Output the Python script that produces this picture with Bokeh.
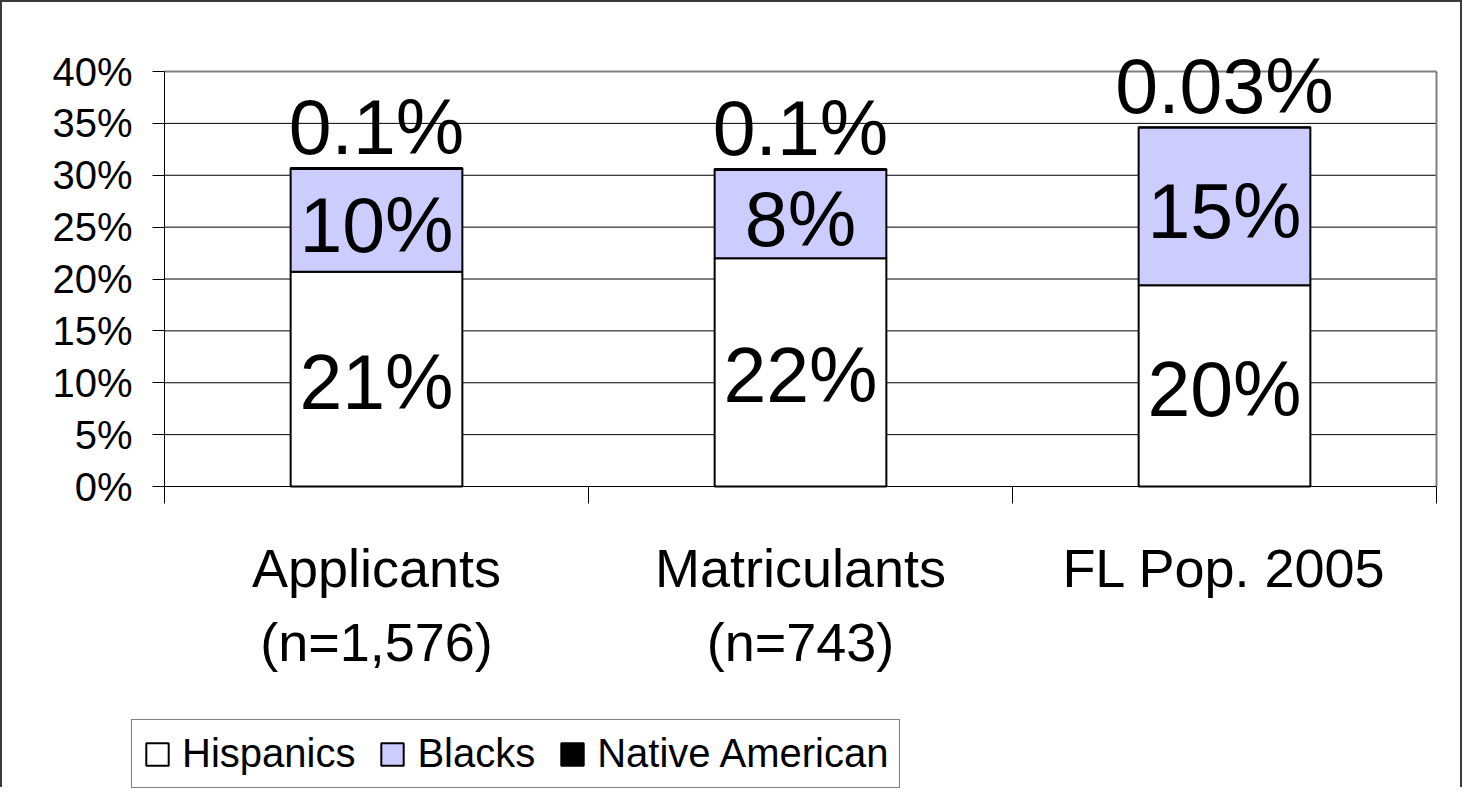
import numpy as np
from bokeh.plotting import figure
from bokeh.models import FixedTicker, PrintfTickFormatter, Legend, LegendItem, ColumnDataSource
from bokeh.core.properties import value
from bokeh.embed import file_html
from bokeh.resources import INLINE

# ---- data ----
categories = ["Applicants\n(n=1,576)", "Matriculants\n(n=743)", "FL Pop. 2005"]
hispanics = [20.7, 22.0, 19.4]
blacks = [9.9, 8.5, 15.2]
native = [0.1, 0.1, 0.03]
hisp_labels = ["21%", "22%", "20%"]
black_labels = ["10%", "8%", "15%"]
native_labels = ["0.1%", "0.1%", "0.03%"]
series_names = ["Hispanics", "Blacks", "Native American"]
series_colors = ["#FFFFFF", "#CCCCFF", "#000000"]
y_ticks = [0, 5, 10, 15, 20, 25, 30, 35, 40]

FONT = "Liberation Sans"

# ---- layout (pixels, canvas coordinates) ----
W, H = 1462, 787
plot_left, plot_top, plot_w, plot_h = 162, 69, 1272, 415
legend_left, legend_bottom_gap = 129, 1

ncat = len(categories)
x = np.arange(ncat) + 0.5
h = np.array(hispanics)
b = np.array(blacks)
n = np.array(native)
y_max = y_ticks[-1]
px_x = plot_w / ncat
px_y = plot_h / y_max
x_start = -plot_left / px_x
x_end = (W - plot_left) / px_x
y_end = y_max + plot_top / px_y
y_start = -(H - plot_top - plot_h) / px_y

src = ColumnDataSource(dict(
    x=x,
    h_top=h, b_top=h + b, n_top=h + b + n,
    h_mid=h / 2, b_mid=h + b / 2,
    hl=hisp_labels, bl=black_labels, nl=native_labels,
))

p = figure(width=W, height=H, x_range=(x_start, x_end), y_range=(y_start, y_end),
           output_backend="svg", toolbar_location=None,
           min_border_left=0, min_border_top=0, min_border_right=0, min_border_bottom=0)
p.styles = {"border-top": "2px solid #3a3a3a", "border-left": "2px solid #3a3a3a",
            "border-right": "2px solid #3a3a3a"}

p.outline_line_color = None
p.background_fill_color = "white"
p.border_fill_color = "white"
p.xgrid.visible = False
p.ygrid.visible = False

# horizontal gridlines (black) and plot-area border (top & right, gray)
inner = y_ticks[1:-1]
p.segment(x0=[0] * len(inner), y0=inner, x1=[ncat] * len(inner), y1=inner,
          line_color="black", line_width=1)
p.segment(x0=[0, ncat], y0=[y_max, 0], x1=[ncat, ncat], y1=[y_max, y_max],
          line_color="#808080", line_width=2)

bw = 0.405
r_h = p.vbar(x="x", width=bw, bottom=0, top="h_top", source=src,
             fill_color=series_colors[0], line_color="black", line_width=2)
r_b = p.vbar(x="x", width=bw, bottom="h_top", top="b_top", source=src,
             fill_color=series_colors[1], line_color="black", line_width=2)
r_n = p.vbar(x="x", width=bw, bottom="b_top", top="n_top", source=src,
             fill_color=series_colors[2], line_color="black", line_width=2)

lbl = dict(source=src, text_align="center", text_font=value(FONT),
           text_font_size=value("77px"), text_color="black")
p.text(x="x", y="h_mid", text="hl", text_baseline="middle", y_offset=3, **lbl)
p.text(x="x", y="b_mid", text="bl", text_baseline="middle", y_offset=5, **lbl)
p.text(x="x", y="n_top", text="nl", text_baseline="bottom", y_offset=2, **lbl)

# y axis
p.yaxis.fixed_location = 0
p.yaxis.bounds = (0, y_max)
p.yaxis.ticker = FixedTicker(ticks=y_ticks)
p.yaxis.formatter = PrintfTickFormatter(format="%d%%")
p.yaxis.major_tick_out = 12
p.yaxis.major_tick_in = 0
p.yaxis.minor_tick_line_color = None
p.yaxis.major_label_standoff = 20
p.yaxis.major_label_text_font = FONT
p.yaxis.major_label_text_font_size = "40px"
p.yaxis.major_label_text_color = "black"
p.yaxis.axis_line_color = "black"
p.yaxis.major_tick_line_color = "black"

# x axis
p.xaxis.fixed_location = 0
p.xaxis.bounds = (0, ncat)
p.xaxis.ticker = FixedTicker(ticks=list(x), minor_ticks=list(np.arange(ncat + 1)))
p.xaxis.major_label_overrides = {float(xi): c for xi, c in zip(x, categories)}
p.xaxis.major_tick_out = 0
p.xaxis.major_tick_in = 0
p.xaxis.minor_tick_out = 17
p.xaxis.minor_tick_in = 0
p.xaxis.minor_tick_line_color = "black"
p.xaxis.major_label_standoff = 34
p.xaxis.major_label_text_font = FONT
p.xaxis.major_label_text_font_size = "54px"
p.xaxis.major_label_text_line_height = 1.24
p.xaxis.major_label_text_color = "black"
p.xaxis.axis_line_color = "black"

legend = Legend(items=[LegendItem(label=nm, renderers=[r]) for nm, r in zip(series_names, [r_h, r_b, r_n])],
                orientation="horizontal", location=(legend_left, legend_bottom_gap),
                label_text_font=FONT, label_text_font_size="40px", label_text_color="black",
                glyph_width=28, glyph_height=28, label_standoff=11, spacing=23, padding=11,
                border_line_color="black", border_line_width=1, background_fill_color="white",
                background_fill_alpha=1, margin=0)
p.add_layout(legend, "center")

open("out.html", "w").write(file_html(p, INLINE))
